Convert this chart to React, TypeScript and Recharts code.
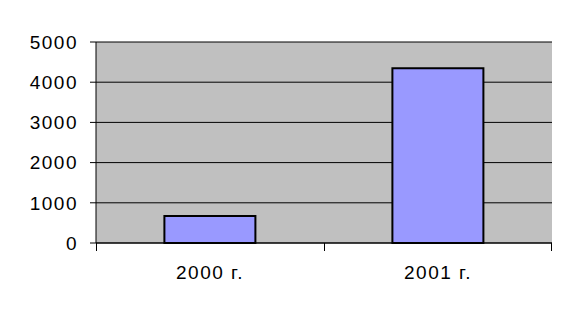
import { BarChart, Bar, XAxis, YAxis, CartesianGrid } from "recharts";

const years = ["2000 г.", "2001 г."];
const values = [670, 4350];
const yTicks = [0, 1000, 2000, 3000, 4000, 5000];

const data = years.map((year, i) => ({ year, value: values[i] }));

const W = 578;
const H = 318;
const M = { top: 42, right: 26, left: 96, bottom: 75 };
const band = (W - M.left - M.right) / years.length;
const axisY = H - M.bottom;

const font = {
  fontFamily: "Liberation Sans, Arial, sans-serif",
  fontSize: 19,
  fill: "#000",
  letterSpacing: 1.5,
};

// category axis in the original has ticks on the band edges, not the centers
const XTick = (props: any) => {
  const { x, payload, index } = props;
  const left = Math.round(x - band / 2) + 0.5;
  const right = Math.round(x + band / 2) - 0.5;
  return (
    <g>
      <line x1={left} x2={left} y1={axisY} y2={axisY + 8} stroke="#000" />
      {index === years.length - 1 && (
        <line x1={right} x2={right} y1={axisY} y2={axisY + 8} stroke="#000" />
      )}
      <text x={x} y={axisY + 29} textAnchor="middle" dominantBaseline="central" {...font}>
        {payload.value}
      </text>
    </g>
  );
};

export default function App() {
  return (
    <div style={{ position: "absolute", left: 0, top: 0, background: "#fff" }}>
      <BarChart
        width={W}
        height={H}
        data={data}
        margin={{ top: M.top, right: M.right, left: 0, bottom: 0 }}
        barCategoryGap="30%"
      >
        <CartesianGrid vertical={false} stroke="#000" fill="#C0C0C0" fillOpacity={1} />
        <XAxis
          xAxisId="top"
          orientation="top"
          dataKey="year"
          height={0}
          tick={false}
          tickLine={false}
          axisLine={{ stroke: "#808080", strokeWidth: 2 }}
        />
        <YAxis
          yAxisId="right"
          orientation="right"
          width={0}
          domain={[0, 5000]}
          tick={false}
          tickLine={false}
          axisLine={{ stroke: "#808080", strokeWidth: 2 }}
        />
        <XAxis
          dataKey="year"
          height={M.bottom}
          tickLine={false}
          axisLine={{ stroke: "#000" }}
          tick={<XTick />}
          interval={0}
        />
        <YAxis
          width={M.left}
          domain={[0, 5000]}
          ticks={yTicks}
          interval={0}
          tickSize={6}
          tickMargin={12}
          tick={font}
          tickLine={{ stroke: "#000" }}
          axisLine={{ stroke: "#000" }}
        />
        <Bar
          dataKey="value"
          fill="#9999FF"
          stroke="#000"
          strokeWidth={2}
          isAnimationActive={false}
        />
      </BarChart>
    </div>
  );
}
